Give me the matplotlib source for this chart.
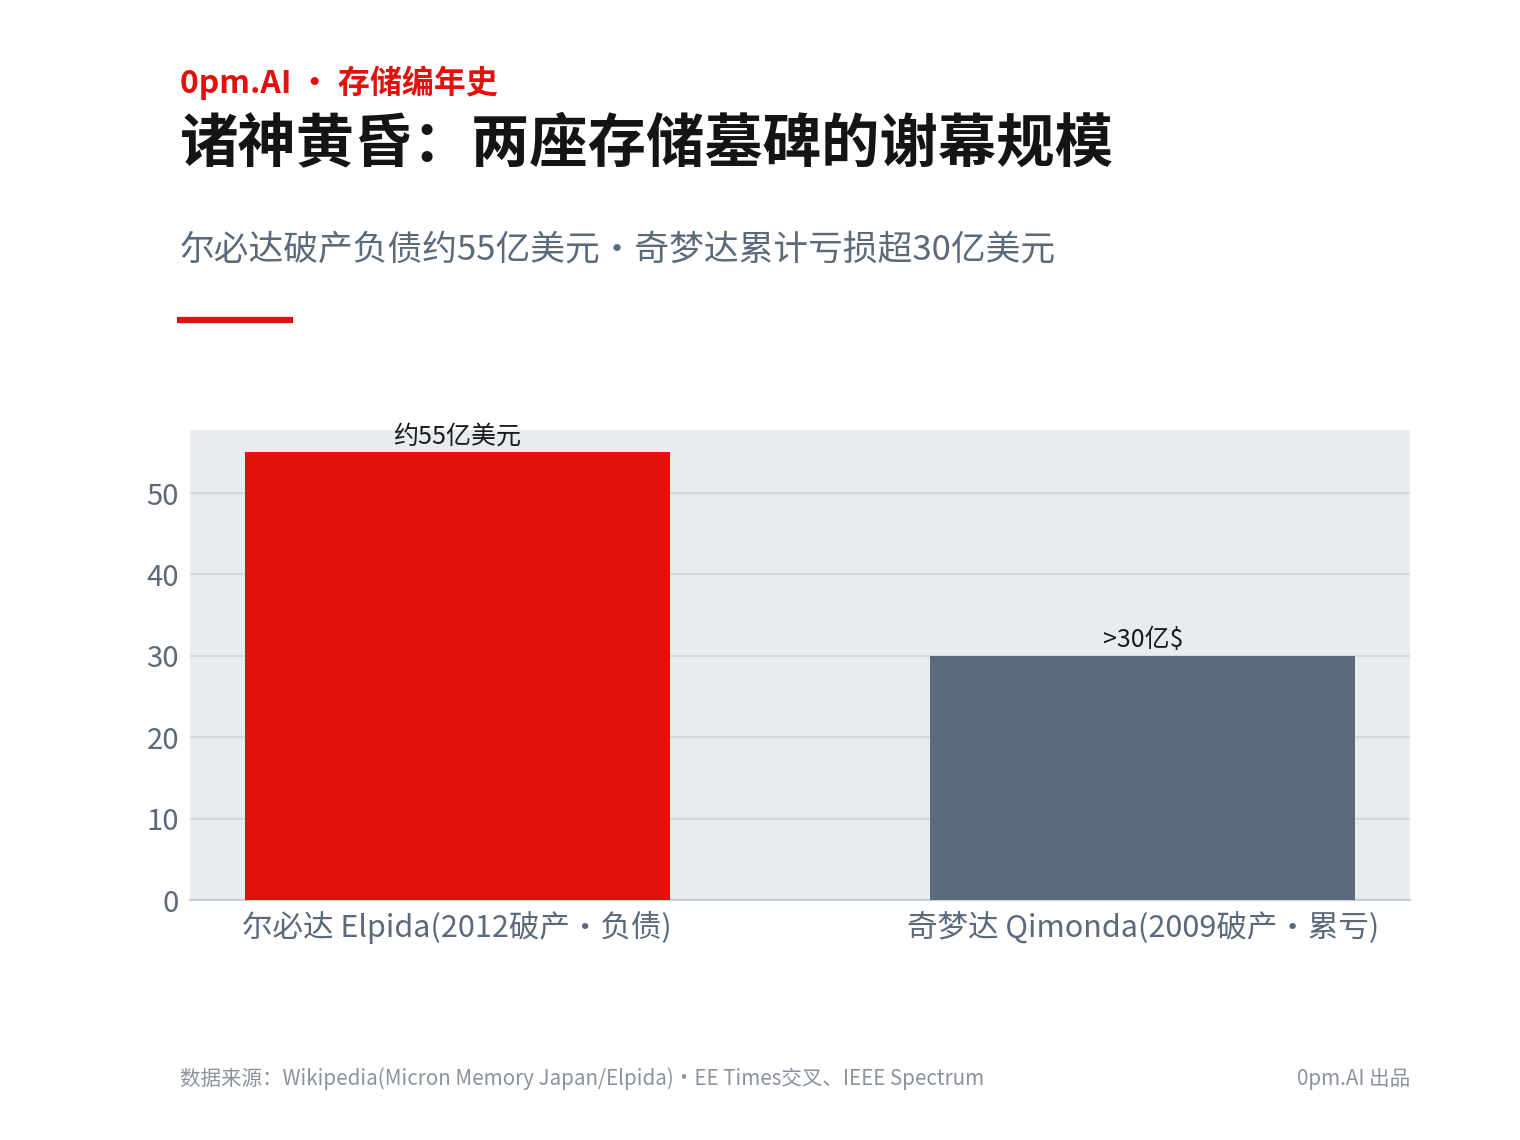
import matplotlib
matplotlib.use("Agg")
import matplotlib.pyplot as plt

plt.rcParams['font.family'] = ['Noto Sans CJK SC', 'DejaVu Sans']

categories = ["尔必达 Elpida(2012破产・负债)", "奇梦达 Qimonda(2009破产・累亏)"]
values = [55, 30]
bar_labels = ["约55亿美元", ">30亿$"]
bar_colors = ["#e1120c", "#5a6a7b"]
yticks = [0, 10, 20, 30, 40, 50]

W, H = 1520, 1140
fig = plt.figure(figsize=(W / 100, H / 100), dpi=100)


def fx(px):
    return px / W


def fy(py):
    return 1 - py / H


ax = fig.add_axes([fx(190), fy(900), fx(1410) - fx(190), fy(430) - fy(900)])
ax.set_facecolor("#e8ecef")
x = list(range(len(categories)))
ax.bar(x, values, width=0.62, color=bar_colors, zorder=3)
for xi, v, lab in zip(x, values, bar_labels):
    ax.text(xi, v + 0.3, lab, ha='center', va='bottom', fontsize=18, color="#1a1a1a", zorder=4)

ax.set_xlim(-0.39, 1.39)
ax.set_ylim(0, 57.75)
ax.set_yticks(yticks)
ax.set_xticks(x)
ax.set_xticklabels(categories)
ax.tick_params(axis='both', length=0, labelcolor="#5a6a7b")
ax.tick_params(axis='y', labelsize=21, pad=8)
ax.tick_params(axis='x', labelsize=22, pad=8)
ax.grid(axis='y', color="#d3d9de", linewidth=1.5, zorder=0)
for s in ['top', 'right', 'left']:
    ax.spines[s].set_visible(False)
ax.spines['bottom'].set_color("#c8ced4")
ax.spines['bottom'].set_linewidth(1.5)

# header texts
fig.text(fx(180), fy(83), "0pm.AI ・ 存储编年史", fontsize=23, fontweight='bold',
         color="#e1120c", ha='left', va='center')
fig.text(fx(180), fy(145), "诸神黄昏：两座存储墓碑的谢幕规模", fontsize=42, fontweight='bold',
         color="#141414", ha='left', va='center')
fig.text(fx(180), fy(250), "尔必达破产负债约55亿美元・奇梦达累计亏损超30亿美元", fontsize=25,
         color="#5a6a7b", ha='left', va='center')
fig.add_artist(plt.Line2D([fx(177), fx(293)], [fy(320), fy(320)], color="#e1120c",
                          linewidth=4.5, solid_capstyle='butt'))

# footer
fig.text(fx(180), fy(1079), "数据来源：Wikipedia(Micron Memory Japan/Elpida)・EE Times交叉、IEEE Spectrum",
         fontsize=14.8, color="#8a939d", ha='left', va='center')
fig.text(fx(1410), fy(1079), "0pm.AI 出品", fontsize=14.8, color="#8a939d", ha='right', va='center')

fig.savefig("out.png", dpi=100, facecolor="white")
